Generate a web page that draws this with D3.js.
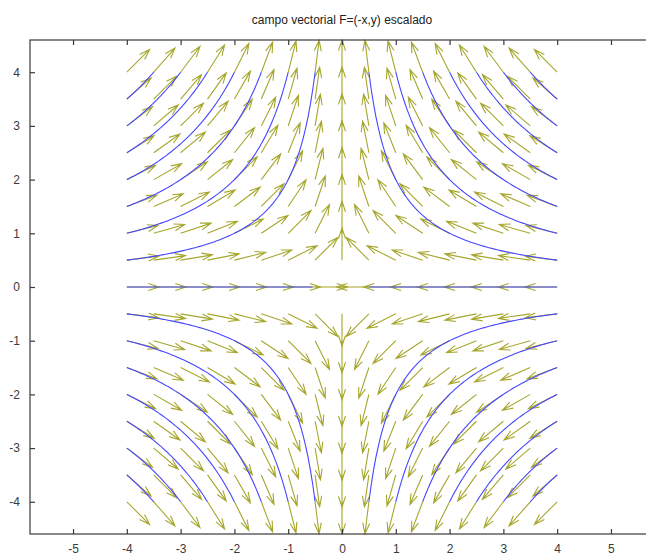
<!DOCTYPE html>
<html>
<head>
<meta charset="utf-8">
<script src="https://cdn.jsdelivr.net/npm/d3@7"></script>
<style>
  html, body { margin: 0; padding: 0; background: #fff; }
  svg { display: block; font-family: "Liberation Sans", Arial, sans-serif; }
</style>
</head>
<body>
<svg id="chart" width="646" height="556"></svg>
<script>
// MARK: Data.

const TITLE   = 'campo vectorial F=(-x,y) escalado'
const X_GRID  = [-4, -3.5, -3, -2.5, -2, -1.5, -1, -0.5, 0, 0.5, 1, 1.5, 2, 2.5, 3, 3.5, 4]
const Y_GRID  = [-4, -3.5, -3, -2.5, -2, -1.5, -1, -0.5, 0, 0.5, 1, 1.5, 2, 2.5, 3, 3.5, 4]
const X_TICKS = [-5, -4, -3, -2, -1, 0, 1, 2, 3, 4, 5]
const Y_TICKS = [-4, -3, -2, -1, 0, 1, 2, 3, 4]
// streamlines are the hyperbolas x*y = c, one list of constants per quadrant
const STREAM_C_Q1 = [2, 4, 6, 8, 10, 12, 14]
const STREAM_C_Q2 = [-2, -4, -6, -8, -10, -12, -14]
const STREAM_C_Q3 = [2, 4, 6, 8, 10, 12, 14]
const STREAM_C_Q4 = [-2, -4, -6, -8, -10, -12, -14]
// the y = 0 streamline stops short of the origin on both sides
const AXIS_STREAM_ENDS = [[-4, -0.55], [0.5, 4]]

// MARK: Constants.

const ARROW_COLOR  = '#a6a62c'
const STREAM_COLOR = '#4646ff'
const AXIS_COLOR   = '#3a3a3a'
const TEXT_COLOR   = '#3a3a3a'
const TICK_LEN     = 5
const HEAD_ALPHA   = 0.33
const HEAD_BETA    = 0.33

const field = (px, py) => [-px, py]

const svg = d3.select('#chart')

const x = d3.scaleLinear().domain([-5.8, 5.8]).range([30, 654])
const y = d3.scaleLinear().domain([-4.6, 4.6]).range([534, 40])

// Title.
svg.append('text')
  .attr('x'          , x(0))
  .attr('y'          , 24)
  .attr('text-anchor', 'middle')
  .attr('font-size'  , 12)
  .attr('fill'       , '#222')
  .text(TITLE)

// MARK: Quiver (normalised vectors, MATLAB-like autoscale).

const delx = (d3.max(X_GRID) - d3.min(X_GRID)) / X_GRID.length
const dely = (d3.max(Y_GRID) - d3.min(Y_GRID)) / Y_GRID.length
const arrowScale = 0.9 * Math.sqrt(delx * delx + dely * dely)

const arrows = []
for (const gy of Y_GRID) {
  for (const gx of X_GRID) {
    const [fu, fv] = field(gx, gy)
    const m = Math.sqrt(fu * fu + fv * fv)
    if (m === 0) continue
    arrows.push({ x: gx, y: gy, u: fu / m * arrowScale, v: fv / m * arrowScale })
  }
}

const arrowPath = (d) => {
  const tx = d.x + d.u, ty = d.y + d.v
  const h1 = [tx - HEAD_ALPHA * (d.u + HEAD_BETA * d.v), ty - HEAD_ALPHA * (d.v - HEAD_BETA * d.u)]
  const h2 = [tx - HEAD_ALPHA * (d.u - HEAD_BETA * d.v), ty - HEAD_ALPHA * (d.v + HEAD_BETA * d.u)]
  return `M${x(d.x)},${y(d.y)}L${x(tx)},${y(ty)}` +
         `M${x(h1[0])},${y(h1[1])}L${x(tx)},${y(ty)}L${x(h2[0])},${y(h2[1])}`
}

svg.append('g').attr('class', 'quiver')
  .selectAll('path')
  .data(arrows).enter()
  .append('path')
  .attr('d'              , arrowPath)
  .attr('fill'           , 'none')
  .attr('stroke'         , ARROW_COLOR)
  .attr('stroke-width'   , 1.1)

// MARK: Streamlines (drawn over the arrows).

const edge = d3.max(X_GRID)
const lineGen = d3.line().x((d) => x(d[0])).y((d) => y(d[1]))

function hyperbola(c, sx, sy) {
  // from the side edge |x| = 4 to the top/bottom edge |y| = 4
  const a = Math.abs(c) / edge
  const pts = []
  const steps = 80
  for (let i = 0; i <= steps; i++) {
    const ax = a + (edge - a) * i / steps
    pts.push([sx * ax, sy * Math.abs(c) / ax])
  }
  return pts
}

const streams = []
  .concat(STREAM_C_Q1.map((c) => hyperbola(c,  1,  1)))
  .concat(STREAM_C_Q2.map((c) => hyperbola(c, -1,  1)))
  .concat(STREAM_C_Q3.map((c) => hyperbola(c, -1, -1)))
  .concat(STREAM_C_Q4.map((c) => hyperbola(c,  1, -1)))
  .concat(AXIS_STREAM_ENDS.map(([a, b]) => [[a, 0], [b, 0]]))

svg.append('g').attr('class', 'streams')
  .selectAll('path')
  .data(streams).enter()
  .append('path')
  .attr('d'           , lineGen)
  .attr('fill'        , 'none')
  .attr('stroke'      , STREAM_COLOR)
  .attr('stroke-width', 1.1)

// MARK: Axes box and ticks (ticks point inward).

const [x0, x1] = x.range()
const [y0, y1] = y.range()

const axes = svg.append('g').attr('class', 'axes')

axes.append('rect')
  .attr('x'           , x0)
  .attr('y'           , y1)
  .attr('width'       , x1 - x0)
  .attr('height'      , y0 - y1)
  .attr('fill'        , 'none')
  .attr('stroke'      , AXIS_COLOR)
  .attr('stroke-width', 1.2)

const axBottom = d3.axisBottom(x).tickValues(X_TICKS).tickSize(-TICK_LEN).tickPadding(10).tickFormat(String)
const axTop    = d3.axisTop(x).tickValues(X_TICKS).tickSize(-TICK_LEN).tickFormat('')
const axLeft   = d3.axisLeft(y).tickValues(Y_TICKS).tickSize(-TICK_LEN).tickPadding(10).tickFormat(String)

axes.append('g').attr('transform', `translate(0,${y0})`).call(axBottom)
axes.append('g').attr('transform', `translate(0,${y1})`).call(axTop)
axes.append('g').attr('transform', `translate(${x0},0)`).call(axLeft)

axes.selectAll('.domain').remove()
axes.selectAll('.tick line')
  .attr('stroke'      , AXIS_COLOR)
  .attr('stroke-width', 1.2)
axes.selectAll('.tick text')
  .attr('fill'       , TEXT_COLOR)
  .attr('font-size'  , 12)
  .attr('font-family', '"Liberation Sans", Arial, sans-serif')
</script>
</body>
</html>
